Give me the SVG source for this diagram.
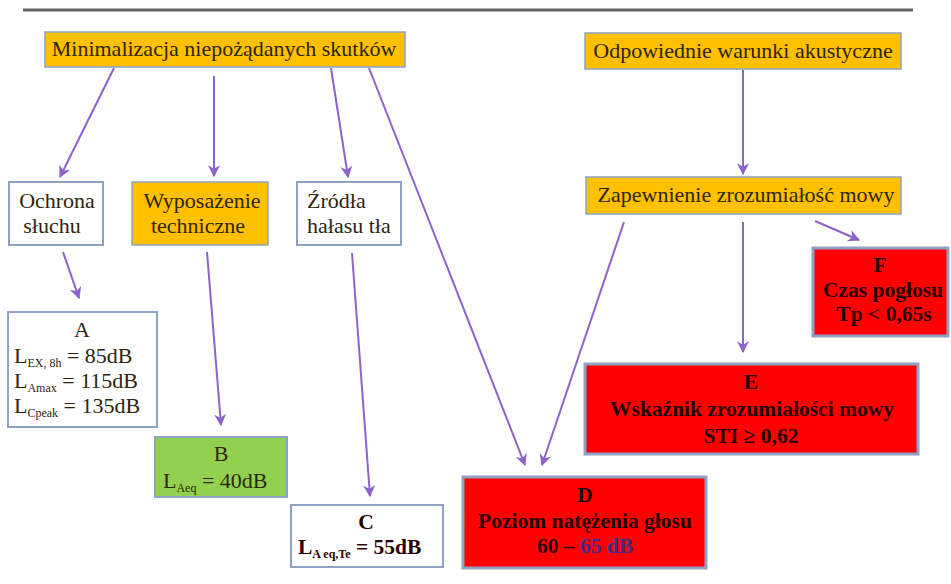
<svg xmlns="http://www.w3.org/2000/svg" width="951" height="584" viewBox="0 0 951 584">
<style>
  text { font-family: "Liberation Serif", "Times New Roman", serif; }
  .t { font-size: 22px; fill: #2e250c; }
  .c { text-anchor: middle; }
  .b { font-weight: bold; font-size: 21.5px; fill: #2a0000; }
  .sub { font-size: 12px; }
  .orange { fill: #FFC000; stroke: #8ea2c4; stroke-width: 1.5; }
  .white { fill: #ffffff; stroke: #8ea2c4; stroke-width: 2; }
  .red { fill: #FF0000; stroke: #8ea2c4; stroke-width: 3; }
  .green { fill: #92D050; stroke: #8ea2c4; stroke-width: 2; }
  .conn line { stroke: #8c63cc; stroke-width: 2; marker-end: url(#ah); }
</style>
<defs>
  <marker id="ah" viewBox="0 0 10 10" refX="9" refY="5" markerWidth="6" markerHeight="6" orient="auto" markerUnits="strokeWidth">
    <path d="M0,0 L10,5 L0,10 L3,5 Z" fill="#8c63cc"/>
  </marker>
</defs>
<rect width="951" height="584" fill="#ffffff"/>
<line x1="23" y1="10" x2="913" y2="10" stroke="#666" stroke-width="3"/>

<g id="n-min">
  <rect class="orange" x="45" y="32" width="360" height="35"/>
  <text class="t c" x="224" y="56">Minimalizacja niepożądanych skutków</text>
</g>
<g id="n-odp">
  <rect class="orange" x="585" y="33" width="316" height="36"/>
  <text class="t c" x="743" y="58">Odpowiednie warunki akustyczne</text>
</g>
<g id="n-ochrona">
  <rect class="white" x="9" y="182" width="94" height="63"/>
  <text class="t c" x="57" y="208">Ochrona</text>
  <text class="t c" x="52" y="233">słuchu</text>
</g>
<g id="n-wyp">
  <rect class="orange" x="132" y="182" width="136" height="63"/>
  <text class="t c" x="202" y="208">Wyposażenie</text>
  <text class="t c" x="198" y="233">techniczne</text>
</g>
<g id="n-zrodla">
  <rect class="white" x="297" y="182" width="104" height="63"/>
  <text class="t" x="307" y="208">Źródła</text>
  <text class="t" x="307" y="233">hałasu tła</text>
</g>
<g id="n-zap">
  <rect class="orange" x="586" y="177" width="315" height="37"/>
  <text class="t c" x="746" y="202">Zapewnienie zrozumiałość mowy</text>
</g>
<g id="n-A">
  <rect class="white" x="8" y="312" width="149" height="115"/>
  <text class="t c" x="82" y="337">A</text>
  <text class="t" x="14" y="363">L<tspan class="sub" dy="4">EX, 8h</tspan><tspan dy="-4"> = 85dB</tspan></text>
  <text class="t" x="14" y="388">L<tspan class="sub" dy="4">Amax</tspan><tspan dy="-4"> = 115dB</tspan></text>
  <text class="t" x="14" y="413">L<tspan class="sub" dy="4">Cpeak</tspan><tspan dy="-4"> = 135dB</tspan></text>
</g>
<g id="n-B">
  <rect class="green" x="155" y="437" width="132" height="60"/>
  <text class="t c" x="221" y="461">B</text>
  <text class="t" x="163" y="488">L<tspan class="sub" dy="4">Aeq</tspan><tspan dy="-4"> = 40dB</tspan></text>
</g>
<g id="n-C">
  <rect class="white" x="291" y="505" width="152" height="62"/>
  <text class="t b c" x="366" y="529">C</text>
  <text class="t b" x="298" y="554">L<tspan class="sub" dy="4">A eq,Te</tspan><tspan dy="-4"> = 55dB</tspan></text>
</g>
<g id="n-D">
  <rect class="red" x="463" y="477" width="243" height="91"/>
  <text class="t b c" x="585" y="502">D</text>
  <text class="t b c" x="585" y="528">Poziom natężenia głosu</text>
  <text class="t b c" x="585" y="553">60 – <tspan fill="#3b2f8a">65 dB</tspan></text>
</g>
<g id="n-E">
  <rect class="red" x="585" y="364" width="333" height="90"/>
  <text class="t b c" x="751" y="389">E</text>
  <text class="t b c" x="752" y="416">Wskaźnik zrozumiałości mowy</text>
  <text class="t b c" x="751" y="443">STI ≥ 0,62</text>
</g>
<g id="n-F">
  <rect class="red" x="813" y="248" width="135" height="88"/>
  <text class="t b c" x="880" y="272">F</text>
  <text class="t b c" x="883" y="297">Czas pogłosu</text>
  <text class="t b c" x="884" y="321">Tp &lt; 0,65s</text>
</g>

<g id="connectors" class="conn">
  <line x1="114" y1="68" x2="60" y2="177"/>
  <line x1="214" y1="76" x2="214" y2="176"/>
  <line x1="331" y1="68" x2="348" y2="177"/>
  <line x1="369" y1="68" x2="525" y2="465"/>
  <line x1="743" y1="70" x2="743" y2="174"/>
  <line x1="624" y1="222" x2="542" y2="465"/>
  <line x1="743" y1="222" x2="743" y2="352"/>
  <line x1="815" y1="221" x2="859" y2="240"/>
  <line x1="63" y1="252" x2="79" y2="298"/>
  <line x1="207" y1="252" x2="221" y2="425"/>
  <line x1="352" y1="253" x2="370" y2="496"/>
</g>
</svg>
